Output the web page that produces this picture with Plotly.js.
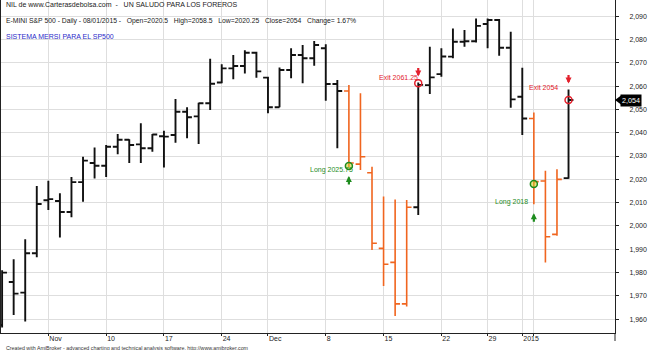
<!DOCTYPE html>
<html><head><meta charset="utf-8">
<script src="https://cdn.plot.ly/plotly-3.0.1.min.js"></script>
<style>html,body{margin:0;padding:0;background:#fff}#chart{width:650px;height:350px}</style>
</head><body><div id="chart"></div>
<script>
const dates = ['2014-10-28','2014-10-29','2014-10-30','2014-10-31',
'2014-11-03','2014-11-04','2014-11-05','2014-11-06','2014-11-07',
'2014-11-10','2014-11-11','2014-11-12','2014-11-13','2014-11-14',
'2014-11-17','2014-11-18','2014-11-19','2014-11-20','2014-11-21',
'2014-11-24','2014-11-25','2014-11-26','2014-11-28',
'2014-12-01','2014-12-02','2014-12-03','2014-12-04','2014-12-05',
'2014-12-08','2014-12-09','2014-12-10','2014-12-11','2014-12-12',
'2014-12-15','2014-12-16','2014-12-17','2014-12-18','2014-12-19',
'2014-12-22','2014-12-23','2014-12-24','2014-12-26',
'2014-12-29','2014-12-30','2014-12-31',
'2015-01-02','2015-01-05','2015-01-06','2015-01-07','2015-01-08'];

const openP  = [1957.5,1976,1971.4,1988.3, 2011,2010.7,2006,2018.8,2027, 2025.8,2034,2037,2035,2033.3,
  2038.5,2039,2049,2047,2052.6, 2061.5,2067.6,2068.6,2074.3, 2063.6,2050.9,2066.9,2073.3,2071.9,
  2076.2,2060.9,2057.9,2026.5,2022.8, 1990.4,1984.4,1966.6,2008,2060.4, 2065.1,2072.6,2079,2079.2,
  2086.6,2088.3,2076.4, 2055.4,2046.1,2019.3,1996.4,2020.5];
const highP  = [1981,1985.7,1994.3,2017.1, 2019.4,2014,2021,2029.7,2033.7, 2034.7,2039.4,2037.2,2044,2039.4,
  2040.8,2054.4,2050.9,2052.8,2071.7, 2069.3,2073.3,2075.4,2074.7, 2064,2068,2076.2,2077.6,2079.3,
  2077.9,2062.6,2060.4,2056.9,2025.4, 2012.6,2011.4,2011.1,2061.5,2076.8, 2076.2,2084.7,2084,2089,
  2089,2088.7,2083.3, 2067.8,2048.7,2023.7,2024.3,2058.5];
const lowP   = [1956.5,1961.8,1959,1986.6, 2006.8,1995.1,2003.7,2010.4,2020.4, 2021,2030.8,2027,2027,2031.8,
  2025.1,2035.7,2037.6,2035.1,2049.7, 2061.2,2062.9,2065.4,2063.6, 2048.3,2050.9,2063.3,2061.2,2068.7,
  2053.7,2033.3,2025.3,2024,1989.7, 1974.3,1961.4,1965.5,2004.7,2056.6, 2064,2071.9,2076.8,2078.7,
  2076.2,2073,2050.7, 2039,2009.3,1984.3,1995.8,2020.25];
const closeP = [1980,1971,1988.3,2009.4, 2011.5,2006,2018.8,2028,2025.8, 2034,2037,2034.7,2033.3,2039.2,
  2038.3,2049,2046.6,2052.6,2061, 2067.6,2068.6,2074.3,2066.3, 2050.9,2066.9,2073.3,2071.9,2077.6,
  2060.9,2057.9,2027,2029.7,1992.6, 1983.6,1966.6,2008,2060.5,2063.7, 2072.7,2079,2079.2,2085.8,
  2088.3,2076.4,2054.3, 2046.1,2019,1995.4,2020,2054];

const entryDates  = ['2014-12-10','2015-01-05'];
const entryPrices = [2025.75, 2018];
const exitDates   = ['2014-12-18','2015-01-08'];
const exitPrices  = [2061.25, 2054];

const tickDates = ['2014-11-03','2014-11-10','2014-11-17','2014-11-24','2014-12-01','2014-12-08',
  '2014-12-15','2014-12-22','2014-12-29','2015-01-02','2015-01-05'];
const tickText  = ['Nov','10','17','24','Dec','8','15','22','29','2015',''];

const headerLine1 = 'NIL de www.Carterasdebolsa.com  -   UN SALUDO PARA LOS FOREROS';
const headerLine2 = 'E-MINI S&P 500 - Daily - 08/01/2015 -   Open=2020.5   High=2058.5   Low=2020.25   Close=2054   Change= 1.67%';
const systemName  = 'SISTEMA MERSI PARA EL SP500';
const credit      = 'Created with AmiBroker - advanced charting and technical analysis software. http://www.amibroker.com';

// ---- build ----
const idx = dates.map((d,i)=>i);
const entryIdx = entryDates.map(d=>dates.indexOf(d));
const exitIdx = exitDates.map(d=>dates.indexOf(d));
const held = idx.map(i=>entryIdx.some((e,k)=>i>=e && i<exitIdx[k]));
const pick = (arr, cond) => idx.filter(i=>held[i]===cond).map(i=>arr[i]);

const BLACK = '#111111', ORANGE = '#f0651f', GREEN = '#1e8c1e', RED = '#e3202c';
const FONT = '"Liberation Sans", Arial, sans-serif';

function ohlc(cond, color, w){
  return {type:'ohlc', x: pick(idx,cond), open: pick(openP,cond), high: pick(highP,cond),
    low: pick(lowP,cond), close: pick(closeP,cond), tickwidth:0.42,
    increasing:{line:{color:color,width:w}}, decreasing:{line:{color:color,width:w}},
    hoverinfo:'skip', showlegend:false};
}

const traces = [
  ohlc(false, BLACK, 1.9),
  ohlc(true, ORANGE, 1.6),
  {type:'scatter', mode:'markers', x: entryIdx, y: entryPrices, hoverinfo:'skip', showlegend:false,
   marker:{symbol:'circle', size:7, color:'rgba(205,205,40,0.55)', line:{color:GREEN, width:1.5}}},
  {type:'scatter', mode:'markers', x: exitIdx, y: exitPrices, hoverinfo:'skip', showlegend:false,
   marker:{symbol:'circle-open', size:7, color:RED, line:{width:1.5}}}
];

const ann = [];
const hdr = (text, ypx, color, size) => ann.push({xref:'paper', yref:'paper', x:3/614, y:1-ypx/333,
  xanchor:'left', yanchor:'middle', text:text, showarrow:false, font:{family:FONT, size:size, color:color}});
hdr(headerLine1, 5, '#1a1a1a', 7);
hdr(headerLine2, 21, '#1a1a1a', 6.8);
hdr(systemName, 36, '#2b2bc8', 7);
ann.push({xref:'paper', yref:'paper', x:3/614, y:-14.5/333, xanchor:'left', yanchor:'middle', text:credit,
  showarrow:false, font:{family:FONT, size:5.3, color:'#333'}});

// buy / sell arrows
entryIdx.forEach((e,k)=>{
  ann.push({x:e, y:lowP[e], xref:'x', yref:'y', text:'', showarrow:true, ax:0, ay:19, standoff:9,
    arrowhead:2, arrowsize:0.55, arrowwidth:2.2, arrowcolor:GREEN});
});
exitIdx.forEach((e,k)=>{
  ann.push({x:e, y:highP[e], xref:'x', yref:'y', text:'', showarrow:true, ax:0, ay:-16, standoff:6,
    arrowhead:2, arrowsize:0.55, arrowwidth:2.2, arrowcolor:RED});
});
// trade labels (pixel offsets are placement style)
const entryOff = [[6,-4],[-4,-18]];
const exitOff  = [[2,6],[-9,13]];
entryIdx.forEach((e,k)=>ann.push({x:e, y:entryPrices[k], xanchor:'right', yanchor:'middle',
  xshift:entryOff[k][0], yshift:entryOff[k][1], text:'Long '+entryPrices[k], showarrow:false,
  font:{family:FONT, size:7, color:GREEN}}));
exitIdx.forEach((e,k)=>ann.push({x:e, y:exitPrices[k], xanchor:'right', yanchor:'middle',
  xshift:exitOff[k][0], yshift:exitOff[k][1], text:'Exit '+exitPrices[k], showarrow:false,
  font:{family:FONT, size:7, color:RED}}));

// last price box on the axis
const last = closeP[closeP.length-1];
ann.push({xref:'paper', yref:'y', x:1, y:last, xshift:5, xanchor:'left', yanchor:'middle',
  text:last.toLocaleString('en-US'), showarrow:false, bgcolor:'#000', borderpad:1,
  font:{family:FONT, size:7.2, color:'#fff'}});

const shapes = [
  {type:'path', xref:'paper', yref:'y', path:`M 1 ${last} L ${1+6/614} ${last+1.9} L ${1+6/614} ${last-1.9} Z`,
   fillcolor:'#000', line:{width:0}},
  {type:'line', xref:'paper', yref:'paper', x0:1, x1:1, y0:-8/333, y1:0, line:{color:'#222', width:1}}
];

const layout = {
  width:650, height:350, margin:{l:1, r:35, t:0, b:17}, paper_bgcolor:'#fff', plot_bgcolor:'#fff',
  showlegend:false, font:{family:FONT, size:7, color:'#222'},
  xaxis:{type:'linear', range:[-0.095, 53.02], rangeslider:{visible:false},
    tickmode:'array', tickvals: tickDates.map(d=>dates.indexOf(d)), ticktext: tickText,
    ticks:'outside', ticklen:2, tickcolor:'#222', ticklabelposition:'outside right', ticklabelstandoff:-1,
    showgrid:true, gridcolor:'#dedede', gridwidth:1, zeroline:false,
    showline:true, linecolor:'#222', linewidth:1, mirror:true,
    tickfont:{family:FONT, size:7, color:'#222'}, fixedrange:true},
  yaxis:{side:'right', range:[1954.1, 2096.9], dtick:10, tick0:1960, tickformat:',',
    ticks:'outside', ticklen:3, tickcolor:'#222', ticklabelstandoff:9,
    showgrid:true, gridcolor:'#dedede', gridwidth:1, zeroline:false,
    showline:true, linecolor:'#222', linewidth:1, mirror:true,
    tickfont:{family:FONT, size:7, color:'#222'}, fixedrange:true},
  annotations: ann, shapes: shapes
};

Plotly.newPlot('chart', traces, layout, {staticPlot:true, displayModeBar:false});
</script></body></html>
